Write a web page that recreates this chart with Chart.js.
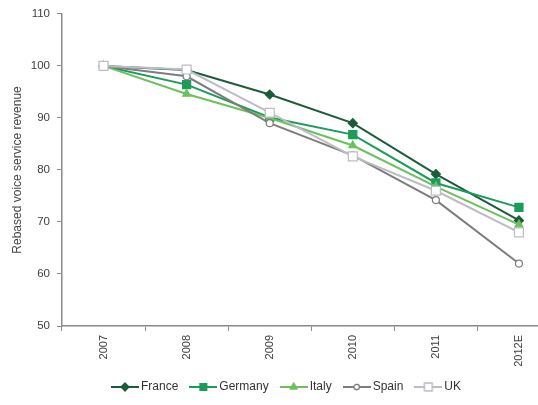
<!DOCTYPE html>
<html>
<head>
<meta charset="utf-8">
<script src="https://cdn.jsdelivr.net/npm/chart.js@4.4.1/dist/chart.umd.min.js"></script>
<style>
    html, body { margin: 0; padding: 0; background: #fff; overflow: hidden; }
    #wrap { width: 568px; height: 405px; position: relative; }
</style>
</head>
<body>
<div id="wrap"><canvas id="chart"></canvas></div>
<script>
// Dados
const years = ['2007', '2008', '2009', '2010', '2011', '2012E'];
const france = [100, 99.2, 94.5, 89.0, 79.2, 70.3];
const germany = [100, 96.4, 90.1, 86.8, 77.5, 72.8];
const italy = [100, 94.6, 90.0, 84.7, 76.8, 69.5];
const spain = [100, 98.0, 89.0, 82.8, 74.2, 62.0];
const uk = [100, 99.3, 91.0, 82.6, 76.0, 68.0];

const yTicks = [50, 60, 70, 80, 90, 100, 110];

// Estilos das séries
const series = [
    { label: 'France', data: france, color: '#1d5c3a', fill: '#1d5c3a', style: 'rectRot', radius: 4.5, order: 5 },
    { label: 'Germany', data: germany, color: '#1c9b5b', fill: '#1c9b5b', style: 'rect', radius: 5.7, order: 4 },
    { label: 'Italy', data: italy, color: '#6cc15c', fill: '#6cc15c', style: 'triangle', radius: 4.5, order: 3 },
    { label: 'Spain', data: spain, color: '#7d7d7d', fill: '#ffffff', style: 'circle', radius: 3.5, order: 2 },
    { label: 'UK', data: uk, color: '#bdbcc4', fill: '#ffffff', style: 'rect', radius: 6.3, order: 1 }
];

// Ícone da legenda: linha + marcador
function legendIcon(s) {
    const c = document.createElement('canvas');
    c.width = 28; c.height = 12;
    const ctx = c.getContext('2d');
    ctx.strokeStyle = s.color;
    ctx.lineWidth = 2;
    ctx.beginPath(); ctx.moveTo(0, 6); ctx.lineTo(28, 6); ctx.stroke();
    ctx.fillStyle = s.fill;
    ctx.lineWidth = 1.2;
    const r = s.style === 'circle' ? 2.6 : s.radius * 0.85;
    Chart.helpers.drawPoint(ctx, { pointStyle: s.style, radius: r, rotation: 0, borderWidth: 1.2 }, 14, 6);
    ctx.fill();
    ctx.stroke();
    return c;
}

const datasets = series.map(s => ({
    label: s.label,
    data: s.data,
    borderColor: s.color,
    backgroundColor: s.fill,
    borderWidth: 2,
    pointStyle: s.style,
    pointRadius: s.radius,
    pointBorderWidth: 1.2,
    pointBackgroundColor: s.fill,
    pointBorderColor: s.color,
    tension: 0,
    order: s.order
}));

const icons = series.map(legendIcon);

new Chart(document.getElementById('chart'), {
    type: 'line',
    data: { labels: years, datasets: datasets },
    options: {
        responsive: true,
        maintainAspectRatio: false,
        animation: false,
        layout: { padding: { left: 10, right: 2, top: 12, bottom: 2 } },
        plugins: {
            tooltip: { enabled: false },
            legend: {
                position: 'bottom',
                labels: {
                    usePointStyle: true,
                    pointStyleWidth: 20,
                    padding: 15,
                    color: '#333',
                    font: { family: 'Liberation Sans', size: 12 },
                    generateLabels: (chart) => {
                        const items = Chart.defaults.plugins.legend.labels.generateLabels(chart);
                        items.sort((a, b) => a.datasetIndex - b.datasetIndex);
                        items.forEach(it => { it.pointStyle = icons[it.datasetIndex]; });
                        return items;
                    }
                }
            }
        },
        scales: {
            x: {
                offset: true,
                grid: { display: true, drawOnChartArea: false, drawTicks: true, tickLength: 5, color: '#8a8a8a', offset: true },
                border: { display: true, color: '#8a8a8a', width: 1.5 },
                ticks: {
                    maxRotation: 90, minRotation: 90, padding: 4,
                    color: '#404040',
                    font: { family: 'Liberation Sans', size: 11 }
                },
                afterFit: (scale) => { scale.height = 40; }
            },
            y: {
                min: 50, max: 110,
                afterBuildTicks: (scale) => { scale.ticks = yTicks.map(v => ({ value: v })); },
                grid: { display: true, drawOnChartArea: false, drawTicks: true, tickLength: 5, color: '#8a8a8a' },
                border: { display: true, color: '#8a8a8a', width: 1.5 },
                ticks: {
                    padding: 7,
                    color: '#404040',
                    font: { family: 'Liberation Sans', size: 11.5 }
                },
                title: {
                    display: true,
                    text: 'Rebased voice service revenue',
                    color: '#444',
                    padding: { top: 0, bottom: 4 },
                    font: { family: 'Liberation Sans', size: 12 }
                },
                afterFit: (scale) => { scale.width = 52; }
            }
        }
    }
});
</script>
</body>
</html>
